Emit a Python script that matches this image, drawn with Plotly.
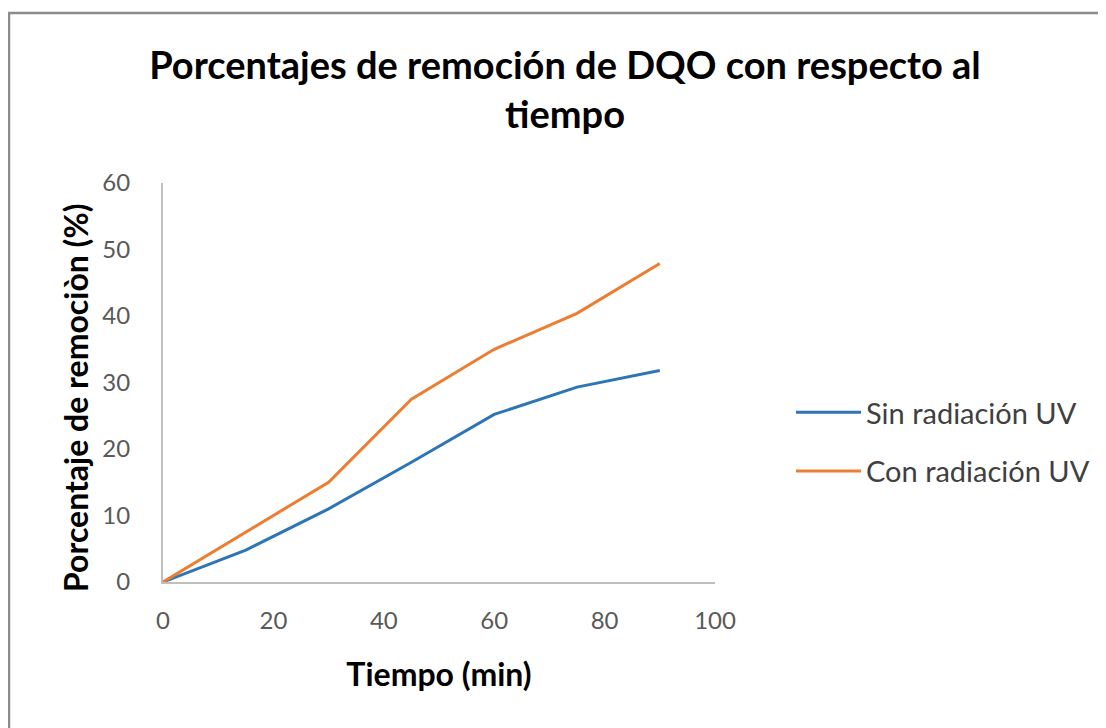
import plotly.graph_objects as go

tiempo = [0, 15, 30, 45, 60, 75, 90]
sin_uv = [0, 4.8, 11.0, 18.0, 25.2, 29.3, 31.8]
con_uv = [0, 7.5, 15.0, 27.5, 35.0, 40.4, 47.9]
x_ticks = [0, 20, 40, 60, 80, 100]
y_ticks = [0, 10, 20, 30, 40, 50, 60]

FONT = "Lato, 'Open Sans', sans-serif"
OFF = 8  # page body margin
W, H = 1106 - OFF, 728 - OFF
L, T = 163 - OFF, 183 - OFF
PR, PB = 715 - OFF, 582 - OFF
R, B = W - PR, H - PB
PW, PH = PR - L, PB - T


def px_x(p):
    return (p - OFF - L) / PW


def px_y(p):
    return (PB - (p - OFF)) / PH


fig = go.Figure()
fig.add_trace(go.Scatter(x=tiempo, y=sin_uv, mode="lines", name="Sin radiación UV",
                         line=dict(color="#2E75B6", width=3), legendgroup="a"))
fig.add_trace(go.Scatter(x=tiempo, y=con_uv, mode="lines", name="Con radiación UV",
                         line=dict(color="#ED7D31", width=3), legendgroup="b"))

fig.update_layout(
    width=W, height=H,
    margin=dict(l=L, r=R, t=T, b=B, autoexpand=False),
    paper_bgcolor="white", plot_bgcolor="white",
    font=dict(family=FONT, color="#595959"),
    title=dict(text="<b>Porcentajes de remoción de DQO con respecto al<br>tiempo</b>",
               x=(565 - OFF) / W, xanchor="center", y=1 - (79 - OFF) / H, yanchor="top",
               font=dict(size=38, color="#000000", family=FONT)),
    xaxis=dict(range=[0, 100], tickvals=x_ticks, showgrid=False, zeroline=False,
               showline=True, linecolor="#BFBFBF", linewidth=2,
               ticks="", tickfont=dict(size=24, color="#595959"),
               ticklabelstandoff=16,
               title=dict(text="<b>Tiempo (min)</b>", standoff=31,
                          font=dict(size=32, color="#000000"))),
    yaxis=dict(range=[0, 60], tickvals=y_ticks, showgrid=False, zeroline=False,
               showline=True, linecolor="#BFBFBF", linewidth=2,
               ticks="", tickfont=dict(size=24, color="#595959"),
               ticklabelstandoff=26),
    showlegend=True,
    legend=dict(x=px_x(791), y=px_y(387), xanchor="left", yanchor="top",
                font=dict(size=29, color="#404040"), tracegroupgap=18,
                itemwidth=65, bgcolor="rgba(0,0,0,0)"),
)

# y-axis title placed as paper annotation (slightly below plot centre, as in the original)
fig.add_annotation(text="<b>Porcentaje de remociòn (%)</b>", xref="paper", yref="paper",
                   x=px_x(75), y=px_y(398), xanchor="center", yanchor="middle",
                   textangle=-90, showarrow=False,
                   font=dict(size=32, color="#000000", family=FONT))

fig.add_shape(type="rect", xref="paper", yref="paper",
              x0=px_x(OFF + 1), x1=px_x(1120), y0=px_y(760), y1=px_y(13),
              line=dict(color="#8C8C8C", width=2.5), fillcolor="rgba(0,0,0,0)",
              layer="below")

fig.write_html("out.html")
